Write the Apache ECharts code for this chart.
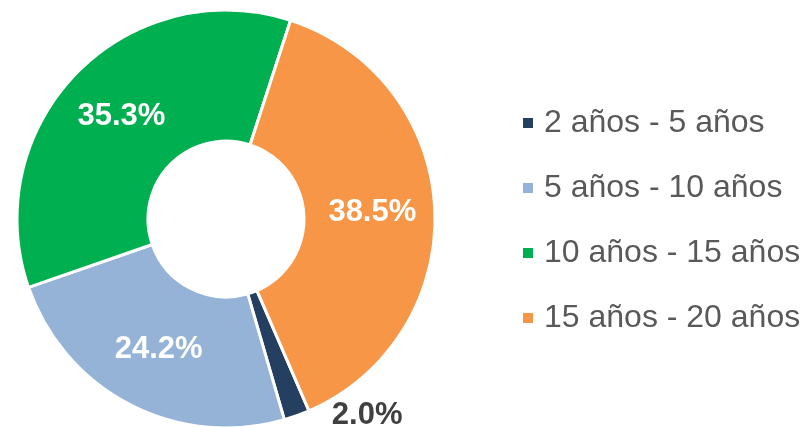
<!DOCTYPE html>
<html>
<head>
<meta charset="utf-8">
<script src="https://cdn.jsdelivr.net/npm/echarts@6/dist/echarts.min.js"></script>
<style>
  html, body { margin: 0; padding: 0; background: #fff; }
  #chart { width: 800px; height: 427px; }
</style>
</head>
<body>
<div id="chart"></div>
<script>
// datos del gráfico
const categories = ['2 años - 5 años', '5 años - 10 años', '10 años - 15 años', '15 años - 20 años'];
const values = [2.0, 24.2, 35.3, 38.5];
const colors = ['#243F60', '#95B3D7', '#00B050', '#F79646'];

const chart = echarts.init(document.getElementById('chart'));

const data = categories.map((name, i) => {
  const item = { name: name, value: values[i], itemStyle: { color: colors[i] } };
  // la porción pequeña lleva la etiqueta afuera
  if (i === 0) {
    item.label = { position: 'outside', color: '#404040', distanceToLabelLine: 5 };
    item.labelLine = { show: false, length: 0, length2: 30 };
  }
  return item;
});

chart.setOption({
  animation: false,
  legend: {
    orient: 'vertical',
    left: 516,
    top: 102,
    icon: 'rect',
    itemWidth: 12,
    itemHeight: 12,
    itemGap: 33,
    data: categories,
    textStyle: {
      fontFamily: 'Liberation Sans, Arial, sans-serif',
      fontSize: 32,
      lineHeight: 32,
      color: '#595959',
      padding: [0, 0, 0, 5]
    }
  },
  series: [
    {
      type: 'pie',
      center: [226, 219],
      radius: [78, 209],
      startAngle: -66.6,
      clockwise: true,
      avoidLabelOverlap: false,
      itemStyle: { borderColor: '#fff', borderWidth: 3 },
      label: {
        show: true,
        position: 'inside',
        formatter: p => p.value.toFixed(1) + '%',
        fontFamily: 'Liberation Sans, Arial, sans-serif',
        fontSize: 31,
        fontWeight: 'bold',
        color: '#fff'
      },
      data: data
    }
  ]
});
</script>
</body>
</html>
